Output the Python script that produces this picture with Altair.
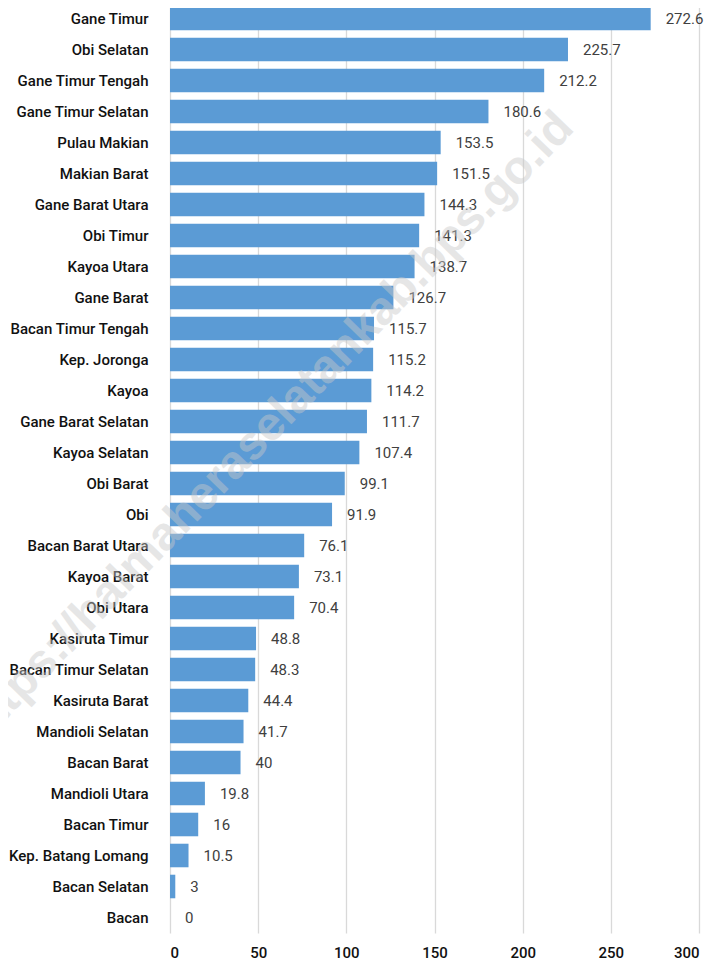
import altair as alt
import pandas as pd

categories = [
    "Gane Timur", "Obi Selatan", "Gane Timur Tengah", "Gane Timur Selatan",
    "Pulau Makian", "Makian Barat", "Gane Barat Utara", "Obi Timur",
    "Kayoa Utara", "Gane Barat", "Bacan Timur Tengah", "Kep. Joronga",
    "Kayoa", "Gane Barat Selatan", "Kayoa Selatan", "Obi Barat", "Obi",
    "Bacan Barat Utara", "Kayoa Barat", "Obi Utara", "Kasiruta Timur",
    "Bacan Timur Selatan", "Kasiruta Barat", "Mandioli Selatan",
    "Bacan Barat", "Mandioli Utara", "Bacan Timur", "Kep. Batang Lomang",
    "Bacan Selatan", "Bacan",
]
values = [
    272.6, 225.7, 212.2, 180.6, 153.5, 151.5, 144.3, 141.3, 138.7, 126.7,
    115.7, 115.2, 114.2, 111.7, 107.4, 99.1, 91.9, 76.1, 73.1, 70.4,
    48.8, 48.3, 44.4, 41.7, 40, 19.8, 16, 10.5, 3, 0,
]
value_labels = [
    "272.6", "225.7", "212.2", "180.6", "153.5", "151.5", "144.3", "141.3",
    "138.7", "126.7", "115.7", "115.2", "114.2", "111.7", "107.4", "99.1",
    "91.9", "76.1", "73.1", "70.4", "48.8", "48.3", "44.4", "41.7", "40",
    "19.8", "16", "10.5", "3", "0",
]
x_ticks = [0, 50, 100, 150, 200, 250, 300]
watermark = "https://halmaheraselatankab.bps.go.id"

df = pd.DataFrame({"cat": categories, "val": values, "lab": value_labels})

FONT = "Roboto"

y_enc = alt.Y(
    "cat:N",
    sort=categories,
    title=None,
    scale=alt.Scale(paddingInner=0.24, paddingOuter=0.12),
    axis=alt.Axis(
        domain=False, ticks=False, labelPadding=22, labelFontSize=15,
        labelFont=FONT, labelFontWeight=500, labelColor="#111111",
        labelLimit=300,
    ),
)
x_enc = alt.X(
    "val:Q",
    title=None,
    scale=alt.Scale(domain=[0, 300], nice=False),
    axis=alt.Axis(
        values=x_ticks, grid=True, gridColor="#d9d9d9", gridWidth=1.3,
        domain=False, ticks=False, labelPadding=12, labelFontSize=15,
        labelFont=FONT, labelFontWeight=500, labelColor="#111111",
    ),
)

bars = alt.Chart(df).mark_bar(color="#5B9BD5").encode(x=x_enc, y=y_enc)

texts = alt.Chart(df).mark_text(
    align="left", baseline="middle", dx=15, fontSize=15, font=FONT,
    color="#404040",
).encode(x="val:Q", y=alt.Y("cat:N", sort=categories), text="lab:N")

wm = alt.Chart(pd.DataFrame({"t": [watermark]})).mark_text(
    align="center", baseline="middle", angle=314, fontSize=47,
    font="Liberation Sans", fontWeight="bold", color="#c8c8c8", opacity=0.45,
).encode(x=alt.value(98), y=alt.value(425), text="t:N")

chart = alt.layer(bars, texts, wm).properties(
    width=529, height=930,
    autosize=alt.AutoSizeParams(type="none"),
    padding={"left": 162, "top": -5, "right": 8, "bottom": 28},
).configure_view(stroke=None)

chart.save("out.html", embed_options={"renderer": "svg", "actions": False})
